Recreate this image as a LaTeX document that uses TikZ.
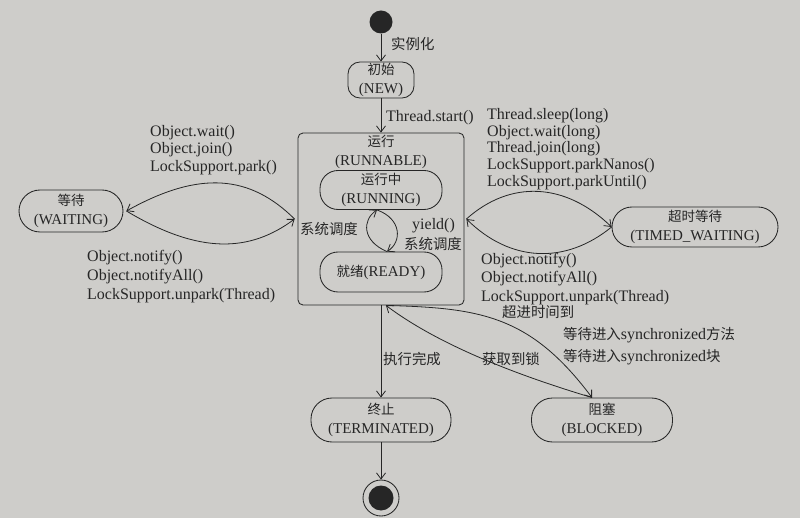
\documentclass[tikz,border=0pt]{standalone}
\usepackage{fontspec}
\setmainfont{Liberation Serif}
\newfontfamily\cjk[Scale=0.9]{Noto Sans CJK SC}
\usetikzlibrary{arrows.meta}
\definecolor{paper}{RGB}{206,205,202}
\definecolor{ink}{RGB}{38,38,38}
\begin{document}
\begin{tikzpicture}[x=1pt,y=-1pt,
  txt/.style={font=\fontsize{15}{19}\selectfont, text=ink, inner sep=0pt},
  state/.style={txt, draw=ink, line width=0.85pt, align=center, rounded corners=#1},
  state/.default=18pt,
  lab/.style={txt, font=\fontsize{16}{19}\selectfont, anchor=base west},
  conn/.style={draw=ink, line width=0.8pt},
  arr/.style={conn, -{Straight Barb[length=6pt,width=9pt]}}]
\fill[paper] (0,0) rectangle (800,518);
\useasboundingbox (0,0) rectangle (800,518);

% states
\node[circle, fill=ink, minimum size=23pt, inner sep=0pt] (init) at (381,22) {};
\node[state=12pt, minimum width=66pt, minimum height=36pt] (new) at (381,80) {{\cjk 初始}\\(NEW)};
\node[draw=ink, line width=0.85pt, rounded corners=5pt, minimum width=166pt, minimum height=172pt, inner sep=0pt] (runnable) at (381,219) {};
\node[txt, align=center] (runlbl) at (381,152) {{\cjk 运行}\\(RUNNABLE)};
\node[state, minimum width=122pt, minimum height=39pt] (running) at (381,190) {{\cjk 运行中}\\(RUNNING)};
\node[state, minimum width=122pt, minimum height=40pt] (ready) at (381,272) {{\cjk 就绪}(READY)};
\node[state=21pt, minimum width=104pt, minimum height=42pt] (waiting) at (71,211) {{\cjk 等待}\\(WAITING)};
\node[state=20pt, minimum width=166pt, minimum height=40pt] (timed) at (695,227) {{\cjk 超时等待}\\(TIMED\_WAITING)};
\node[state=21pt, minimum width=140pt, minimum height=44pt] (term) at (381,420) {{\cjk 终止}\\(TERMINATED)};
\node[state=21pt, minimum width=141pt, minimum height=44pt] (blocked) at (602,420) {{\cjk 阻塞}\\(BLOCKED)};
\node[circle, draw=ink, line width=0.85pt, minimum size=36pt, inner sep=0pt] (final) at (381,498) {};
\node[circle, fill=ink, minimum size=25pt, inner sep=0pt] (finaldot) at (final.center) {};

% straight connectors
\draw[arr] (init) -- (new);
\draw[arr] (new) -- (runnable);
\draw[arr] (runnable) -- (term);
\draw[arr] (term) -- (final);

% running <-> ready loop
\coordinate (lt) at ([xshift=-4pt]running.south);
\coordinate (lb) at ([xshift=6pt]ready.north);
\draw[arr] (lb) .. controls (362,241) and (362,220) .. (lt);
\draw[arr] (lt) .. controls (402,219) and (402,242) .. (lb);

% waiting lens
\coordinate (wE) at ([xshift=3pt]waiting.east);
\coordinate (rW) at ([xshift=-3pt]runnable.west);
\draw[arr] (rW) .. controls (250,175) and (200,170) .. (wE);
\draw[arr] (wE) .. controls (200,255) and (250,252) .. (rW);

% timed waiting lens
\coordinate (rE) at ([xshift=2pt]runnable.east);
\coordinate (tW) at (timed.west);
\draw[arr] (rE) .. controls (510,180) and (565,182) .. (tW);
\draw[arr] (tW) .. controls (565,265) and (510,262) .. (rE);

% blocked
\coordinate (rS) at ([xshift=5pt]runnable.south);
\coordinate (bN) at ([xshift=-10pt]blocked.north);
\draw[arr] (rS) .. controls (480,308) and (530,315) .. (bN);
\draw[arr] (bN) .. controls (520,376) and (440,346) .. (rS);

% labels
\node[lab] (t1) at (391,50) {\cjk 实例化};
\node[lab] (t2) at (386,122) {Thread.start()};
\node[lab] (a1) at (150,137) {Object.wait()};
\node[lab] (a2) at (150,154) {Object.join()};
\node[lab] (a3) at (150,172) {LockSupport.park()};
\node[lab] (b1) at (87,262) {Object.notify()};
\node[lab] (b2) at (87,281) {Object.notifyAll()};
\node[lab] (b3) at (87,300) {LockSupport.unpark(Thread)};
\node[lab] (c1) at (487,120) {Thread.sleep(long)};
\node[lab] (c2) at (487,137) {Object.wait(long)};
\node[lab] (c3) at (487,153) {Thread.join(long)};
\node[lab] (c4) at (487,170) {LockSupport.parkNanos()};
\node[lab] (c5) at (487,187) {LockSupport.parkUntil()};
\node[lab] (d1) at (481,265) {Object.notify()};
\node[lab] (d2) at (481,283) {Object.notifyAll()};
\node[lab] (d3) at (481,302) {LockSupport.unpark(Thread)};
\node[lab] (e1) at (502,318) {\cjk 超进时间到};
\node[lab] (e2) at (563,340) {{\cjk 等待进入}synchronized{\cjk 方法}};
\node[lab] (e3) at (563,361) {{\cjk 等待进入}synchronized{\cjk 块}};
\node[lab] (f1) at (383,364) {\cjk 执行完成};
\node[lab] (f2) at (482,364) {\cjk 获取到锁};
\node[lab] (g1) at (300,235) {\cjk 系统调度};
\node[lab] (g2) at (412,230) {yield()};
\node[lab] (g3) at (404,250) {\cjk 系统调度};
\end{tikzpicture}
\end{document}
